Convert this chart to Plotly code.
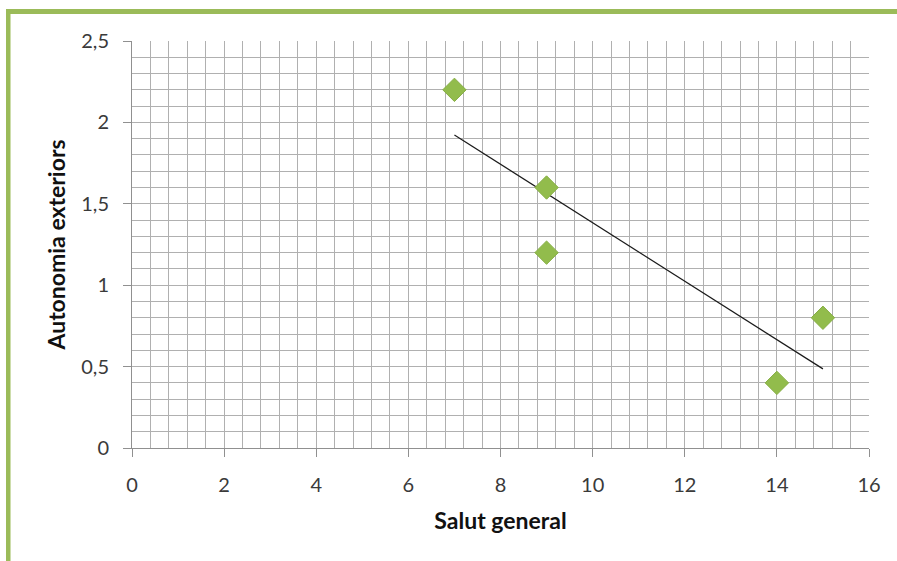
import numpy as np
import plotly.graph_objects as go

# Observations: general health score vs. outdoor autonomy
salut_general = [7, 9, 9, 14, 15]
autonomia_exteriors = [2.2, 1.6, 1.2, 0.4, 0.8]

x_ticks = [0, 2, 4, 6, 8, 10, 12, 14, 16]
y_ticks = [0, 0.5, 1, 1.5, 2, 2.5]

# Least-squares trend line drawn across the observed x span
slope, intercept = np.polyfit(salut_general, autonomia_exteriors, 1)
trend_x = [min(salut_general), max(salut_general)]
trend_y = [slope * v + intercept for v in trend_x]

W, H = 897, 561
ML, MR, MT, MB = 132, 28, 41, 113
green = "#9BBB59"

fig = go.Figure()
fig.add_trace(go.Scatter(
    x=trend_x, y=trend_y, mode="lines",
    line=dict(color="#1a1a1a", width=1.2),
    hoverinfo="skip", showlegend=False,
))
fig.add_trace(go.Scatter(
    x=salut_general, y=autonomia_exteriors, mode="markers",
    marker=dict(symbol="diamond", size=18, color="#92BC4C",
                line=dict(color="#86AE44", width=1)),
    showlegend=False,
))

# Frame band along the top and left edges, positioned in pixels
pw = W - ML - MR
ph = H - MT - MB
def px_x(p):
    return (p - ML) / pw
def px_y(p):
    return 1 - (p - MT) / ph

fig.add_shape(type="rect", xref="paper", yref="paper",
              x0=px_x(6), x1=px_x(W + 5), y0=px_y(14), y1=px_y(9),
              fillcolor=green, line_width=0, layer="above")
fig.add_shape(type="rect", xref="paper", yref="paper",
              x0=px_x(6), x1=px_x(10.5), y0=px_y(H + 5), y1=px_y(9),
              fillcolor=green, line_width=0, layer="above")

tick_font = dict(family="Lato, 'Open Sans', sans-serif", size=20, color="#3a3a3a")
title_font = dict(family="Lato, 'Open Sans', sans-serif", size=23, color="#111111")
grid_col = "#b0b0b0"

fig.update_layout(
    width=W, height=H,
    margin=dict(l=ML, r=MR, t=MT, b=MB),
    paper_bgcolor="white", plot_bgcolor="white",
    separators=",.",
    xaxis=dict(
        range=[0, 16], tickvals=x_ticks, ticktext=[str(v) for v in x_ticks],
        showgrid=True, gridcolor=grid_col, gridwidth=1,
        minor=dict(dtick=0.4, showgrid=True, gridcolor=grid_col, gridwidth=1),
        ticks="outside", ticklen=8, tickcolor="#909090",
        showline=True, linecolor="#909090", linewidth=1,
        zeroline=False, tickfont=tick_font, ticklabelstandoff=11,
        title=dict(text="<b>Salut general</b>", font=title_font, standoff=17),
    ),
    yaxis=dict(
        range=[0, 2.5], tickvals=y_ticks,
        ticktext=[f"{v:g}".replace(".", ",") for v in y_ticks],
        showgrid=True, gridcolor=grid_col, gridwidth=1,
        minor=dict(dtick=0.1, showgrid=True, gridcolor=grid_col, gridwidth=1),
        ticks="outside", ticklen=8, tickcolor="#909090",
        showline=True, linecolor="#909090", linewidth=1,
        zeroline=False, tickfont=tick_font, ticklabelstandoff=10,
        title=dict(text="<b>Autonomia exteriors</b>", font=title_font, standoff=9),
    ),
)

fig.write_html("out.html")
